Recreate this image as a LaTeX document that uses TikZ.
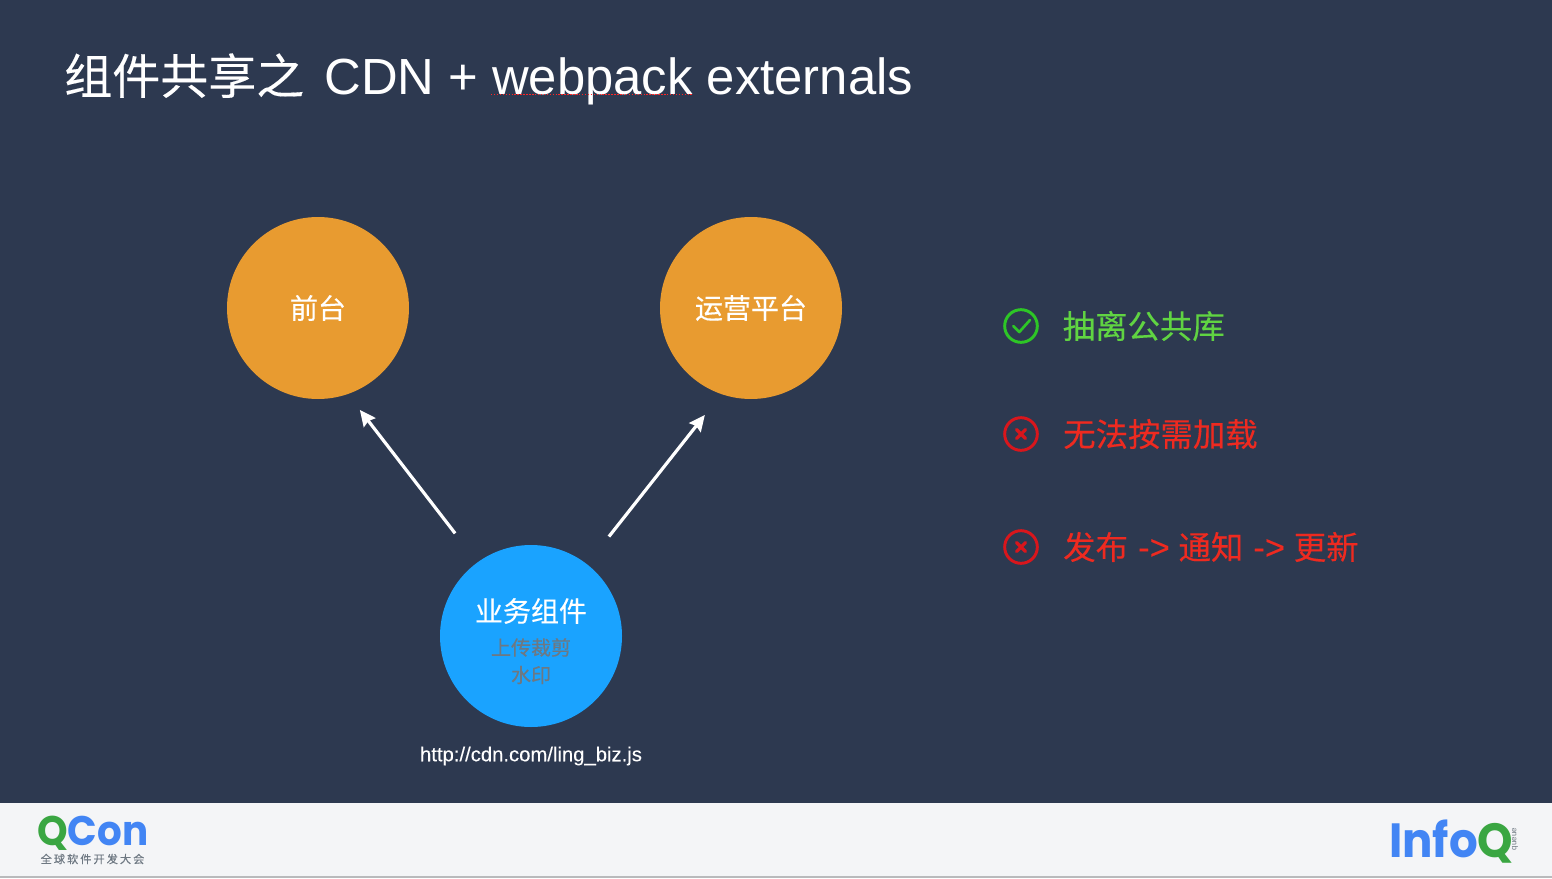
\documentclass[tikz,border=0pt]{standalone}
\usepackage{fontspec}
\setmainfont{Liberation Sans}
\newfontfamily\cjk[FakeBold=0.25]{Noto Sans CJK SC}
\newfontfamily\cjkwide[LetterSpace=18,FakeBold=0.3]{Noto Sans CJK SC}
\newfontfamily\urlfont[FakeBold=0.15]{Liberation Sans}
\newfontfamily\logofont{Poppins}
\usetikzlibrary{positioning}
\usetikzlibrary{arrows.meta}

\definecolor{slidebg}{RGB}{45,57,80}
\definecolor{footbg}{RGB}{244,245,247}
\definecolor{footline}{RGB}{185,186,188}
\definecolor{orangefill}{RGB}{232,155,48}
\definecolor{bluefill}{RGB}{26,163,255}
\definecolor{subgray}{RGB}{110,120,130}
\definecolor{goodtext}{RGB}{96,212,66}
\definecolor{goodicon}{RGB}{45,198,38}
\definecolor{badtext}{RGB}{238,42,32}
\definecolor{badicon}{RGB}{217,22,28}
\definecolor{logogreen}{RGB}{58,166,66}
\definecolor{logoblue}{RGB}{66,133,244}

\begin{document}
\begin{tikzpicture} [
x=0.75pt, y=-0.75pt,
orangenode/.style={circle, fill=orangefill, text=white, inner sep=0pt, outer sep=0pt, minimum size=136.5pt, font=\cjk\fontsize{21}{25}\selectfont},
bluenode/.style={circle, fill=bluefill, inner sep=0pt, outer sep=0pt, minimum size=136.5pt},
subnode/.style={text=subgray, inner sep=0pt, font=\cjk\fontsize{15}{18}\selectfont},
goodicon/.style={circle, draw=goodicon, line width=2.2pt, inner sep=0pt, outer sep=0pt, minimum size=24.5pt},
badicon/.style={circle, draw=badicon, line width=2.2pt, inner sep=0pt, outer sep=0pt, minimum size=24.5pt},
goodnode/.style={text=goodtext, anchor=west, inner sep=0pt, font=\cjk\fontsize{24.3}{28}\selectfont},
badnode/.style={text=badtext, anchor=west, inner sep=0pt, font=\cjk\fontsize{24.3}{28}\selectfont},
whitearrow/.style={draw=white, line width=2.4pt, -{Stealth[length=12pt,width=11pt,inset=1.5pt]}},
]
%Background
\fill[slidebg] (0,0) rectangle (1552,878);
\fill[footbg] (0,803) rectangle (1552,876);
\fill[footline] (0,876) rectangle (1552,878);
\useasboundingbox (0,0) rectangle (1552,878);

%Title
\node[text=white, anchor=base west, inner sep=0pt, font=\fontsize{38.1}{44}\selectfont] (title) at (64,94)
  {{\cjk\fontsize{36}{44}\selectfont 组件共享之}\hspace{4.5pt} CDN + webpack externals};
\draw[red!85!white, line width=1pt, dash pattern=on 1.1pt off 1.1pt] (491,94.5) -- (692,94.5);

%Nodes
\node[orangenode]  (front)   at (318,308)  {前台};
\node[orangenode]  (ops)     at (751,308)  {运营平台};
\node[bluenode]    (biz)     at (531,636)  {};
\node[text=white, inner sep=0pt, font=\cjk\fontsize{21}{25}\selectfont] (bizname) at (531,611) {业务组件};
\node[subnode]     (bizcut)  at (531,647.5)  {上传裁剪};
\node[subnode]     (bizmark) at (531,675)  {水印};
\node[text=white, inner sep=0pt, font=\urlfont\fontsize{15.2}{18}\selectfont] (bizurl) at (531,756) {http://cdn.com/ling\_biz.js};

%List
\node[goodicon]    (okicon)  at (1021,326) {};
\node[goodnode]    (oktext)  at (1062.5,326) {抽离公共库};
\node[badicon]     (noload)  at (1021,434) {};
\node[badnode]     (loadtext) at (1063,434) {无法按需加载};
\node[badicon]     (nopub)   at (1021,547) {};
\node[badnode]     (pubtext) at (1063,547) {发布\hspace{7.5pt}{\urlfont\fontsize{26}{28}\selectfont ->}\hspace{6.5pt}通知\hspace{7.5pt}{\urlfont\fontsize{26}{28}\selectfont ->}\hspace{6.5pt}更新};

%Icon marks
\draw[goodicon, line width=2pt, line cap=round, line join=round]
  ([shift={(-7.7,0)}]okicon.center) -- ([shift={(-1.7,6)}]okicon.center) -- ([shift={(9,-6)}]okicon.center);
\foreach \mark in {noload, nopub} {
  \draw[badicon, line width=2.4pt, line cap=round] ([shift={(-4.5,-4.5)}]\mark.center) -- ([shift={(4.5,4.5)}]\mark.center);
  \draw[badicon, line width=2.4pt, line cap=round] ([shift={(-4.5,4.5)}]\mark.center) -- ([shift={(4.5,-4.5)}]\mark.center);
}

%Lines
\draw[whitearrow, shorten <=27.5pt, shorten >=15pt] (biz.126) -- (front.-71.3);
\draw[whitearrow, shorten <=26.5pt, shorten >=20pt] (biz.52.9) -- (ops.251.7);

%Logos
\node[anchor=base west, inner sep=0pt, xscale=0.94, font=\logofont\bfseries\fontsize{31}{36}\selectfont] (qcon) at (37,845)
  {\textcolor{logogreen}{Q}\textcolor{logoblue}{Con}};
\node[text=subgray, inner sep=0pt, font=\cjkwide\fontsize{8.4}{10}\selectfont] (qconsub) at (92.5,859) {全球软件开发大会};
\node[anchor=base west, inner sep=0pt, xscale=0.94, font=\logofont\bfseries\fontsize{36}{40}\selectfont] (infoq) at (1389,857)
  {\textcolor{logoblue}{Info}\textcolor{logogreen}{Q}};
\node[text=subgray, rotate=90, inner sep=0pt, font=\fontsize{6}{7}\selectfont] (queue) at (1515,839) {queue};
\end{tikzpicture}
\end{document}
